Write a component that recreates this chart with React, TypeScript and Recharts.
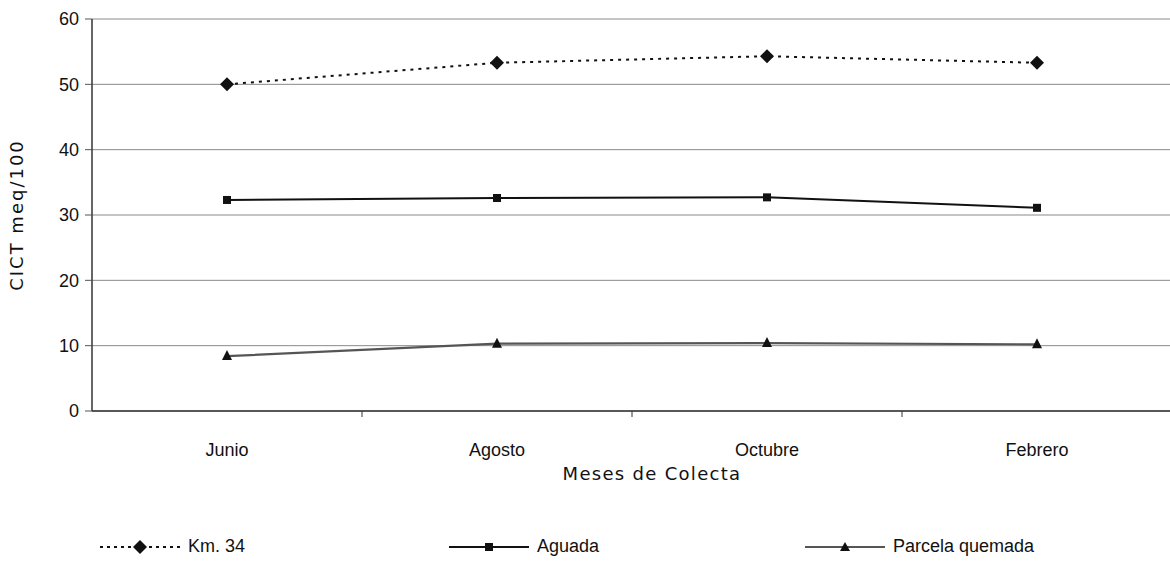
import React from 'react';
import { LineChart, Line, XAxis, YAxis, CartesianGrid } from 'recharts';

const months = ['Junio', 'Agosto', 'Octubre', 'Febrero'];
const km34 = [50.0, 53.3, 54.3, 53.3];
const aguada = [32.3, 32.6, 32.7, 31.1];
const parcela = [8.4, 10.3, 10.4, 10.2];
const yTicks = [0, 10, 20, 30, 40, 50, 60];

const data = months.map((m, i) => ({ month: m, km34: km34[i], aguada: aguada[i], parcela: parcela[i] }));

const TICK_FONT = 'Liberation Sans, Arial, sans-serif';
const LABEL_FONT = 'DejaVu Sans, Verdana, sans-serif';

const Diamond = (props: any) => {
  const { cx, cy } = props;
  if (cx == null || cy == null) return null;
  const r = 7;
  return <path d={`M${cx},${cy - r}L${cx + r},${cy}L${cx},${cy + r}L${cx - r},${cy}Z`} fill="#111" />;
};
const Square = (props: any) => {
  const { cx, cy } = props;
  if (cx == null || cy == null) return null;
  return <rect x={cx - 4} y={cy - 4} width={8} height={8} fill="#111" />;
};
const Triangle = (props: any) => {
  const { cx, cy } = props;
  if (cx == null || cy == null) return null;
  return <path d={`M${cx},${cy - 6}L${cx + 5},${cy + 4}L${cx - 5},${cy + 4}Z`} fill="#111" />;
};

// Category tick: label at band centre, small tick mark at the band's left boundary
const MonthTick = (props: any) => {
  const { x, y, payload, index } = props;
  const half = payload && payload.offset ? payload.offset : 0;
  return (
    <g>
      {index > 0 && half > 0 && <line x1={x - half} x2={x - half} y1={y} y2={y + 6} stroke="#333" strokeWidth={1} />}
      <text x={x} y={y + 45} textAnchor="middle" fill="#111" fontSize={18} fontFamily={TICK_FONT}>
        {payload.value}
      </text>
    </g>
  );
};

const legendItems = [
  { name: 'Km. 34', dash: '3 4', color: '#111', width: 2, marker: 'diamond', left: 100 },
  { name: 'Aguada', dash: undefined, color: '#111', width: 2, marker: 'square', left: 449 },
  { name: 'Parcela quemada', dash: undefined, color: '#555', width: 2, marker: 'triangle', left: 805 },
];

function LegendIcon({ item }: { item: any }) {
  const w = 80;
  return (
    <svg width={w} height={16} style={{ display: 'block' }}>
      <line x1={0} y1={8} x2={w} y2={8} stroke={item.color} strokeWidth={item.width} strokeDasharray={item.dash} />
      {item.marker === 'diamond' && <Diamond cx={w / 2} cy={8} />}
      {item.marker === 'square' && <rect x={w / 2 - 4} y={4} width={8} height={8} fill="#111" />}
      {item.marker === 'triangle' && <path d={`M${w / 2},3L${w / 2 + 5},12L${w / 2 - 5},12Z`} fill="#111" />}
    </svg>
  );
}

export default function App() {
  return (
    <div style={{ position: 'absolute', left: 0, top: 0, width: 1170, height: 563, overflow: 'hidden', background: '#fff' }}>
      <LineChart width={1172} height={563} data={data} margin={{ top: 19, right: 0, bottom: 0, left: 0 }}>
        <CartesianGrid vertical={false} stroke="#8a8a8a" strokeWidth={1} />
        <XAxis
          dataKey="month"
          scale="band"
          height={152}
          tickLine={false}
          tickSize={0}
          tickMargin={0}
          axisLine={{ stroke: '#333', strokeWidth: 1.5 }}
          tick={<MonthTick />}
          interval={0}
          label={{ value: 'Meses de Colecta', position: 'insideTop', offset: 56, dx: 20, fill: '#111', fontSize: 18, fontFamily: LABEL_FONT, letterSpacing: 1.3 } as any}
        />
        <YAxis
          domain={[0, 60]}
          ticks={yTicks}
          width={92}
          tickSize={7}
          tickMargin={6}
          tickLine={{ stroke: '#555' }}
          axisLine={{ stroke: '#333', strokeWidth: 1.5 }}
          tick={{ fill: '#111', fontSize: 18, fontFamily: TICK_FONT }}
          label={{ value: 'CICT meq/100', angle: -90, position: 'insideLeft', offset: 17, fill: '#111', fontSize: 18, fontFamily: LABEL_FONT, letterSpacing: 2, style: { textAnchor: 'middle' } } as any}
        />
        <Line dataKey="km34" name="Km. 34" stroke="#111" strokeWidth={2} strokeDasharray="3 5" dot={<Diamond />} isAnimationActive={false} />
        <Line dataKey="aguada" name="Aguada" stroke="#111" strokeWidth={2} dot={<Square />} isAnimationActive={false} />
        <Line dataKey="parcela" name="Parcela quemada" stroke="#555" strokeWidth={2.2} dot={<Triangle />} isAnimationActive={false} />
      </LineChart>
      {legendItems.map((it) => (
        <div key={it.name} style={{ position: 'absolute', top: 536, left: it.left, display: 'flex', alignItems: 'center', fontFamily: TICK_FONT, fontSize: 18, color: '#111' }}>
          <LegendIcon item={it} />
          <span style={{ marginLeft: 8 }}>{it.name}</span>
        </div>
      ))}
    </div>
  );
}
